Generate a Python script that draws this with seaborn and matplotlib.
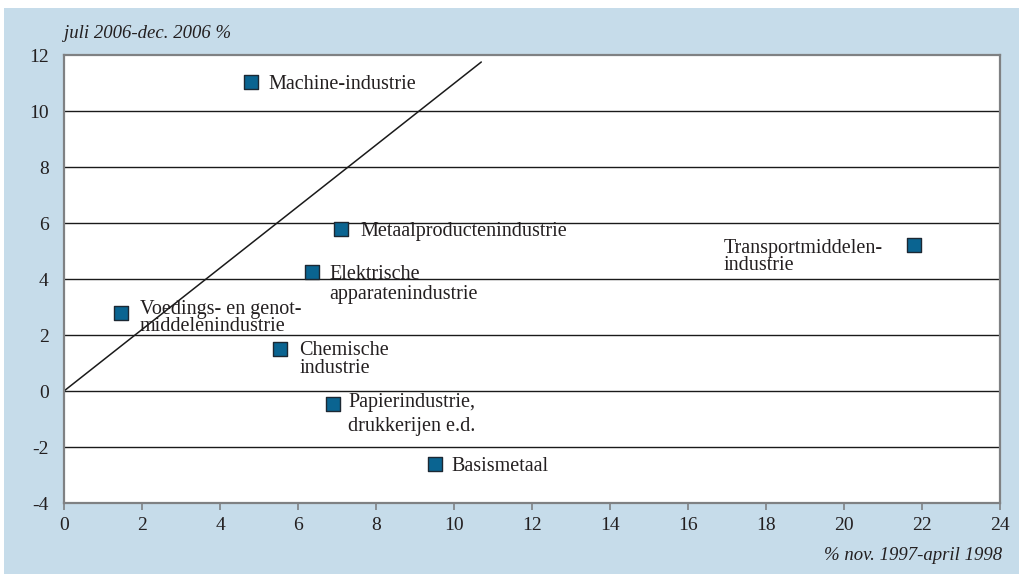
import pandas as pd
import matplotlib.pyplot as plt
import seaborn as sns

# Groei per branche: x = nov. 1997-april 1998, y = juli 2006-dec. 2006 (%)
branches = ['Machine-industrie', 'Metaalproductenindustrie',
            'Transportmiddelen-\nindustrie', 'Elektrische\napparatenindustrie',
            'Voedings- en genot-\nmiddelenindustrie', 'Chemische\nindustrie',
            'Papierindustrie,\ndrukkerijen e.d.', 'Basismetaal']
groei_1998 = [4.8, 7.1, 21.8, 6.35, 1.45, 5.55, 6.9, 9.5]
groei_2006 = [11.05, 5.8, 5.2, 4.25, 2.8, 1.5, -0.45, -2.6]

# lijn door de oorsprong
lijn_x = [0, 10.7]
lijn_y = [0, 11.75]

x_ticks = list(range(0, 25, 2))
y_ticks = list(range(-4, 13, 2))

# plaatsing van de labels (pixels): horizontaal, basislijn eerste regel, regelafstand
label_dx = [17, 20, -191, 18, 19, 19, 15, 17]
label_dy = [-7, -7, -8, -7, -1, -6, -3, -7]
label_gap = [0, 0, 17, 20, 17, 18, 24, 0]

achtergrond = '#c6dcea'
blauw = '#0a6491'
grijs = '#7f8183'
tekst = '#231f20'

sns.set_theme(style='white')
plt.rcParams['font.family'] = ['Liberation Serif', 'DejaVu Serif']
plt.rcParams['axes.unicode_minus'] = False

fig = plt.figure(figsize=(10.19, 5.74), dpi=100, facecolor='white')
fig.patches.append(plt.Rectangle((4 / 1019, 0), 1, 1 - 8 / 574,
                                 transform=fig.transFigure,
                                 facecolor=achtergrond, edgecolor='none', zorder=-1))
ax = fig.add_axes([64 / 1019, 1 - 503 / 574, 936 / 1019, 448 / 574])
ax.set_facecolor('white')

for y in y_ticks[1:-1]:
    ax.axhline(y, color='#1a1a1a', lw=1.0, zorder=1)

sns.lineplot(x=lijn_x, y=lijn_y, ax=ax, color='#1a1a1a', lw=1.1, zorder=2)

df = pd.DataFrame({'branche': branches, 'x': groei_1998, 'y': groei_2006})
sns.scatterplot(data=df, x='x', y='y', ax=ax, marker='s', s=105,
                color=blauw, edgecolor='#1c2833', linewidth=1.0, zorder=3)

for naam, x, y, dx, dy, gap in zip(branches, groei_1998, groei_2006,
                                   label_dx, label_dy, label_gap):
    for i, regel in enumerate(naam.split('\n')):
        ax.annotate(regel, (x, y), xytext=(dx, dy - i * gap),
                    textcoords='offset pixels', ha='left', va='baseline',
                    fontsize=14.5, color=tekst, zorder=4)

ax.set_xlim(0, 24)
ax.set_ylim(-4, 12)
ax.set_xticks(x_ticks)
ax.set_yticks(y_ticks)
ax.tick_params(axis='x', length=5, width=1.2, color=grijs, pad=5,
               labelsize=14, labelcolor=tekst, bottom=True)
ax.tick_params(axis='y', length=0, pad=11, labelsize=14, labelcolor=tekst)
ax.set_xlabel('')
ax.set_ylabel('')
for spine in ax.spines.values():
    spine.set_color(grijs)
    spine.set_linewidth(1.6)

ax.text(0.0, 1.038, 'juli 2006-dec. 2006 %', transform=ax.transAxes,
        ha='left', va='baseline', fontsize=13.5, style='italic', color=tekst)
ax.text(1.002, -0.127, '% nov. 1997-april 1998', transform=ax.transAxes,
        ha='right', va='baseline', fontsize=13.5, style='italic', color=tekst)

fig.savefig('out.png', dpi=100, facecolor=fig.get_facecolor())
